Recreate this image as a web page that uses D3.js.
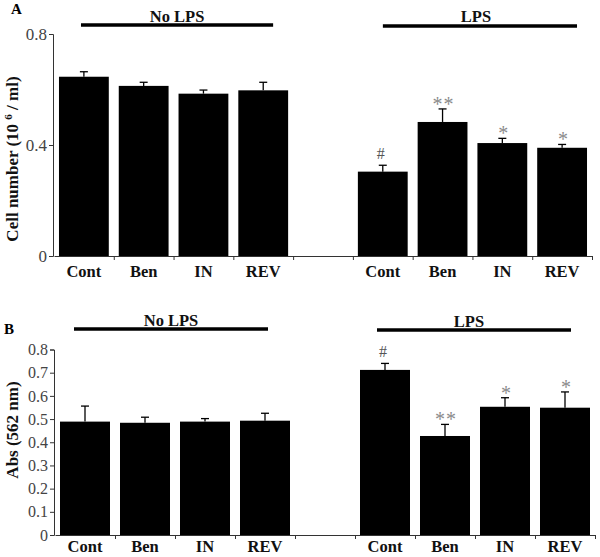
<!DOCTYPE html>
<html><head><meta charset="utf-8">
<script src="https://cdn.jsdelivr.net/npm/d3@7"></script>
<style>
html,body{margin:0;padding:0;background:#fff;}
svg text{font-family:"Liberation Serif","Times New Roman",serif;}
</style></head>
<body><svg id="c" width="600" height="557"></svg>
<script>
// ---- data ----
const categories = ["Cont", "Ben", "IN", "REV"];
const groups = ["No LPS", "LPS"];
const cellMean = [0.646, 0.613, 0.585, 0.597, 0.304, 0.483, 0.407, 0.390];
const cellErr  = [0.018, 0.013, 0.013, 0.029, 0.023, 0.047, 0.017, 0.012];
const cellMarks = ["", "", "", "", "#", "**", "*", "*"];
const cellTicks = [0, 0.4, 0.8];
const absMean = [0.489, 0.484, 0.489, 0.493, 0.712, 0.427, 0.553, 0.549];
const absErr  = [0.067, 0.024, 0.013, 0.032, 0.028, 0.050, 0.039, 0.068];
const absMarks = ["", "", "", "", "#", "**", "*", "*"];
const absTicks = [0, 0.1, 0.2, 0.3, 0.4, 0.5, 0.6, 0.7, 0.8];

const svg = d3.select("#c");
const SERIF = "Liberation Serif, Times New Roman, serif";

function panel(cfg) {
  const g = svg.append("g");
  const slots = d3.range(9).map(String);
  const barSlots = [0, 1, 2, 3, 5, 6, 7, 8].map(String);
  const x = d3.scaleBand().domain(slots).range([cfg.x0, cfg.x1])
    .paddingInner(1 / 6).paddingOuter(1 / 12);
  const y = d3.scaleLinear().domain([0, 0.8]).range([cfg.yb, cfg.yt]);
  const rows = cfg.mean.map((m, i) => ({
    slot: barSlots[i], mean: m, err: cfg.err[i], mark: cfg.marks[i],
    cat: categories[i % 4], grp: groups[Math.floor(i / 4)]
  }));
  const cx = d => x(d.slot) + x.bandwidth() / 2;

  // bars
  g.selectAll("rect.bar").data(rows).join("rect")
    .attr("x", d => x(d.slot)).attr("width", x.bandwidth())
    .attr("y", d => y(d.mean)).attr("height", d => y(0) - y(d.mean))
    .attr("fill", "#000");

  // error bars
  const eb = g.selectAll("g.eb").data(rows).join("g");
  eb.append("line")
    .attr("x1", cx).attr("x2", cx)
    .attr("y1", d => y(d.mean)).attr("y2", d => y(d.mean + d.err))
    .attr("stroke", "#000").attr("stroke-width", 1.3);
  eb.append("line")
    .attr("x1", d => cx(d) - 4).attr("x2", d => cx(d) + 4)
    .attr("y1", d => y(d.mean + d.err)).attr("y2", d => y(d.mean + d.err))
    .attr("stroke", "#000").attr("stroke-width", 1.3);

  // significance marks
  g.selectAll("text.mark").data(rows.filter(d => d.mark)).join("text")
    .attr("x", d => cx(d) + (d.mark === "#" ? -2 : 1))
    .attr("y", d => y(d.mean + d.err) - (d.mark === "#" ? 6 : -2))
    .attr("text-anchor", "middle")
    .attr("font-size", d => d.mark === "#" ? 16 : 20)
    .attr("fill", d => d.mark === "#" ? "#555" : "#8a8a8a")
    .attr("letter-spacing", d => d.mark === "**" ? 1 : 0)
    .text(d => d.mark);

  // y axis
  const ya = g.append("g").attr("transform", `translate(${cfg.x0 - 1},0)`)
    .call(d3.axisLeft(y).tickValues(cfg.ticks).tickSize(4).tickPadding(2)
      .tickFormat(d => d === 0 ? "0" : d3.format(".1f")(d)));
  ya.select(".domain").attr("stroke", "#333");
  ya.selectAll(".tick line").attr("stroke", "#333");
  ya.selectAll(".tick text").attr("font-size", cfg.tickFont)
    .attr("font-family", SERIF).attr("fill", "#444");

  // x axis with ticks at category boundaries
  const xLin = d3.scaleLinear().domain([0, 9]).range([cfg.x0, cfg.x1]);
  const xa = g.append("g").attr("transform", `translate(0,${cfg.yb})`)
    .call(d3.axisBottom(xLin).tickValues(d3.range(1, 10)).tickSize(4).tickSizeOuter(0).tickFormat(""));
  xa.select(".domain").attr("stroke", "#333");
  xa.selectAll(".tick line").attr("stroke", "#333");

  // category labels
  g.selectAll("text.xl").data(rows).join("text")
    .attr("x", cx)
    .attr("y", cfg.yb + cfg.labelDy)
    .attr("text-anchor", "middle").attr("font-weight", "bold").attr("font-size", 16.5)
    .attr("fill", "#111")
    .text(d => d.cat);

  // group headers
  groups.forEach((gr, k) => {
    const s0 = x(String(k * 5)), s1 = x(String(k * 5 + 3)) + x.bandwidth();
    const lx0 = s0 + cfg.lineOff[k][0], lx1 = s1 + cfg.lineOff[k][1];
    g.append("line").attr("x1", lx0).attr("x2", lx1)
      .attr("y1", cfg.lineY[k]).attr("y2", cfg.lineY[k])
      .attr("stroke", "#000").attr("stroke-width", 3.5);
    g.append("text").attr("x", (lx0 + lx1) / 2 + cfg.textOff[k]).attr("y", cfg.textY[k])
      .attr("text-anchor", "middle").attr("font-weight", "bold").attr("font-size", 16.5)
      .attr("fill", "#111").text(gr);
  });

  // panel letter
  g.append("text").attr("x", cfg.letterX).attr("y", cfg.letterY)
    .attr("font-weight", "bold").attr("font-size", 15).text(cfg.letter);

  // y label
  const yl = g.append("text")
    .attr("transform", `translate(${cfg.ylX},${cfg.ylY}) rotate(-90)`)
    .attr("text-anchor", "middle").attr("font-weight", "bold").attr("font-size", 17)
    .attr("fill", "#111");
  cfg.ylabel(yl);
}

panel({
  letter: "A", letterX: 11, letterY: 14,
  x0: 54, x1: 592, yb: 256, yt: 34,
  mean: cellMean, err: cellErr, marks: cellMarks, ticks: cellTicks, tickFont: 17,
  labelDy: 21,
  lineY: [25, 26], lineOff: [[22, -15], [25, -10]], textY: [22, 22], textOff: [0, -4],
  ylX: 18, ylY: 159,
  ylabel: t => {
    t.append("tspan").text("Cell number (10 ");
    t.append("tspan").attr("font-size", 11).attr("dy", -6).text("6");
    t.append("tspan").attr("dy", 6).text(" / ml)");
  }
});

panel({
  letter: "B", letterX: 4, letterY: 334,
  x0: 55, x1: 595, yb: 535, yt: 349.5,
  mean: absMean, err: absErr, marks: absMarks, ticks: absTicks, tickFont: 16,
  labelDy: 17,
  lineY: [329, 330], lineOff: [[14, -22], [17, -19]], textY: [326, 327], textOff: [0, -5],
  ylX: 18, ylY: 430,
  ylabel: t => t.text("Abs (562 nm)")
});
</script></body></html>
